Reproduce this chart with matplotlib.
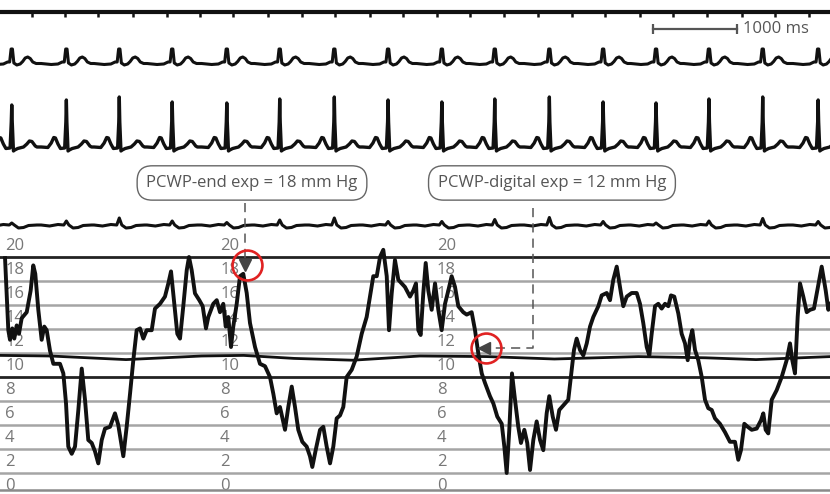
import numpy as np
import matplotlib.pyplot as plt

plt.rcParams['font.family'] = ['Open Sans', 'DejaVu Sans']

# --- timing (seconds) ---
marker_t = [0.38, 0.77, 1.17, 1.58, 1.99, 2.38, 2.77, 3.19, 3.60, 3.99, 4.40, 4.80,
            5.20, 5.60, 6.00, 6.40, 6.81, 7.20, 7.62, 8.01, 8.42, 8.83, 9.23, 9.63]
r_peaks = [0.14, 0.79, 1.42, 2.05, 2.70, 3.33, 3.98, 4.62, 5.26, 5.89, 6.54, 7.18,
           7.81, 8.44, 9.08, 9.74]

# R amplitude per beat (lead 3) and bump amplitude per beat (lead 4)
lead3_r = [4.2, 4.7, 5.0, 4.5, 4.4, 4.8, 5.0, 4.7, 4.5, 4.8, 5.0, 4.5, 4.4, 4.8, 5.0, 4.7]
lead4_r = [0.2, 0.4, 0.7, 0.4, 0.25, 0.5, 0.7, 0.35, 0.35, 0.55, 0.75, 0.35, 0.2, 0.4, 0.65, 0.35]

# beat shapes (offset from R in s, amplitude)
lead2_off = [-0.30, -0.18, -0.10, -0.05, -0.025, -0.008, 0.008, 0.025, 0.06, 0.10, 0.13, 0.16, 0.19, 0.22, 0.25, 0.29, 0.30]
lead2_val = [-0.05, -0.15, -0.1, 0.1, 0.1, 1.4, 1.4, 0.0, -0.2, -0.1, 0.15, 0.5, 0.6, 0.45, 0.1, -0.05, -0.05]
lead3_off = [-0.30, -0.22, -0.18, -0.15, -0.13, -0.10, -0.07, -0.02, -0.006, 0.0, 0.006, 0.02, 0.035,
             0.07, 0.14, 0.18, 0.21, 0.24, 0.28, 0.30]
lead3_val = [0.0, -0.05, 0.4, 0.95, 0.9, 0.3, -0.15, -0.1, 2.5, None, 2.5, -0.4, -0.3,
             -0.15, 0.0, 0.3, 0.6, 0.55, 0.1, 0.0]
lead4_off = [-0.30, -0.20, -0.10, -0.03, 0.0, 0.03, 0.08, 0.14, 0.20, 0.30]
lead4_val = [0.0, -0.1, 0.05, 0.0, None, 0.0, -0.3, -0.25, -0.05, 0.0]

# --- wedge pressure trace (s, mm Hg) ---
p_time = [0.060, 0.099, 0.119, 0.146, 0.170, 0.199, 0.226, 0.258, 0.318, 0.365, 0.396, 0.420,
          0.456, 0.496, 0.527, 0.556, 0.595, 0.635, 0.714, 0.754, 0.786, 0.813, 0.854, 0.893,
          0.932, 0.973, 1.012, 1.051, 1.092, 1.131, 1.170, 1.211, 1.250, 1.310, 1.369, 1.408,
          1.468, 1.508, 1.548, 1.587, 1.627, 1.667, 1.706, 1.746, 1.806, 1.845, 1.905, 1.964,
          2.004, 2.036, 2.071, 2.111, 2.143, 2.182, 2.223, 2.250, 2.282, 2.321, 2.373, 2.413,
          2.452, 2.480, 2.539, 2.580, 2.619, 2.658, 2.687, 2.718, 2.750, 2.777, 2.818, 2.857,
          2.896, 2.937, 2.976, 3.036, 3.095, 3.155, 3.214, 3.254, 3.294, 3.333, 3.393, 3.432,
          3.473, 3.512, 3.551, 3.599, 3.651, 3.690, 3.718, 3.758, 3.810, 3.849, 3.889, 3.929,
          3.968, 4.008, 4.048, 4.087, 4.127, 4.187, 4.246, 4.306, 4.365, 4.405, 4.444, 4.485,
          4.524, 4.563, 4.604, 4.631, 4.663, 4.702, 4.742, 4.782, 4.821, 4.881, 4.920, 4.952,
          4.980, 5.008, 5.039, 5.068, 5.099, 5.139, 5.179, 5.218, 5.258, 5.298, 5.337, 5.377,
          5.417, 5.456, 5.515, 5.556, 5.615, 5.655, 5.694, 5.735, 5.774, 5.833, 5.873, 5.920,
          5.973, 6.004, 6.032, 6.063, 6.095, 6.131, 6.170, 6.202, 6.242, 6.277, 6.310, 6.349,
          6.389, 6.429, 6.468, 6.508, 6.539, 6.580, 6.619, 6.658, 6.714, 6.765, 6.806, 6.833,
          6.865, 6.905, 6.944, 6.985, 7.024, 7.063, 7.123, 7.163, 7.223, 7.262, 7.301, 7.342,
          7.393, 7.420, 7.461, 7.520, 7.580, 7.619, 7.658, 7.699, 7.730, 7.758, 7.798, 7.837,
          7.877, 7.917, 7.956, 7.988, 8.027, 8.075, 8.115, 8.155, 8.187, 8.214, 8.242, 8.274,
          8.313, 8.354, 8.393, 8.432, 8.473, 8.512, 8.571, 8.631, 8.690, 8.750, 8.789, 8.821,
          8.861, 8.901, 8.949, 9.008, 9.060, 9.087, 9.115, 9.146, 9.187, 9.246, 9.306, 9.365,
          9.405, 9.432, 9.464, 9.496, 9.524, 9.563, 9.604, 9.643, 9.690, 9.730, 9.782, 9.830,
          9.861, 9.881]
p_mmhg = [19.9, 13.9, 13.1, 14.05, 13.2, 14.3, 13.6, 14.9, 15.4, 17.2, 19.3, 18.6,
          15.6, 13.1, 14.2, 13.9, 12.2, 11.1, 11.1, 10.3, 7.8, 4.2, 3.6, 4.2,
          7.2, 10.7, 8.1, 4.75, 4.5, 3.8, 2.8, 4.75, 5.7, 5.85, 6.97, 6.0,
          3.4, 5.85, 8.6, 11.4, 13.9, 14.05, 13.2, 13.9, 13.9, 15.7, 16.1, 16.7,
          17.8, 18.8, 16.4, 13.6, 13.2, 15.9, 18.9, 20.0, 18.9, 16.97, 16.4, 15.9,
          14.05, 15.0, 16.1, 16.4, 15.4, 16.1, 14.2, 15.0, 12.5, 14.2, 16.1, 18.4,
          18.6, 17.0, 14.5, 12.5, 11.1, 10.9, 10.0, 8.6, 6.97, 7.5, 5.6, 7.5,
          9.2, 7.5, 5.6, 4.6, 4.2, 3.4, 2.5, 3.9, 5.6, 5.85, 4.2, 2.8,
          4.2, 6.55, 6.8, 7.5, 10.0, 10.6, 11.7, 13.6, 15.0, 16.7, 18.4, 18.4,
          20.0, 20.6, 18.4, 13.9, 16.97, 19.75, 18.1, 17.8, 17.5, 16.7, 17.2, 17.8,
          13.9, 13.5, 16.97, 19.5, 17.2, 15.6, 17.8, 15.6, 13.9, 16.1, 17.2, 18.4,
          17.5, 15.9, 15.4, 15.2, 15.4, 13.9, 11.97, 10.3, 9.5, 8.4, 7.8, 6.7,
          6.1, 4.2, 2.0, 5.6, 10.3, 8.1, 5.85, 4.5, 5.6, 4.5, 2.25, 4.75,
          6.3, 4.75, 3.9, 6.97, 8.4, 6.7, 5.6, 7.25, 7.7, 8.1, 10.6, 12.25,
          13.2, 12.25, 11.8, 12.8, 14.2, 15.0, 15.9, 16.8, 17.0, 16.4, 18.1, 19.2,
          16.97, 15.9, 16.7, 17.0, 17.0, 16.1, 14.5, 12.5, 11.8, 13.6, 15.9, 16.1,
          15.7, 16.1, 15.9, 16.8, 16.7, 15.3, 13.6, 12.8, 11.4, 13.1, 13.9, 12.25,
          11.4, 10.0, 8.1, 7.4, 7.25, 6.55, 6.1, 5.4, 4.6, 4.6, 3.1, 3.9,
          6.1, 5.85, 5.6, 5.7, 6.4, 6.97, 5.6, 5.3, 8.1, 8.9, 10.0, 11.4,
          12.8, 11.4, 10.3, 15.0, 17.8, 16.7, 15.4, 15.6, 15.7, 17.2, 19.2, 17.2,
          15.6, 16.1]

# slowly varying reference trace near 11-12 mm Hg
ref_time = [0.0, 0.6, 1.5, 2.4, 2.9, 3.5, 4.2, 5.0, 5.8, 6.6, 7.6, 8.4, 9.0, 9.881]
ref_mmhg = [11.8, 11.75, 11.45, 11.75, 11.8, 11.55, 11.4, 11.75, 11.7, 11.5, 11.7, 11.6, 11.45, 11.7]

grid_levels = [2, 4, 6, 8, 10, 12, 14, 16, 18, 20]
label_levels = [0, 2, 4, 6, 8, 10, 12, 14, 16, 18, 20]
label_cols = [0.06, 2.62, 5.20]

end_exp_time, end_exp_value = 2.92, 19.1
digital_time, digital_value = 6.345, 12.4
t_end = 9.881


def build_lead(offsets, values, amps=None):
    ts, vs = [], []
    for i, r in enumerate(r_peaks):
        for o, v in zip(offsets, values):
            ts.append(r + o)
            vs.append(amps[i] if v is None else v)
    return np.array(ts), np.array(vs)


fig = plt.figure(figsize=(8.3, 4.94), dpi=100)
H = 494.0


def strip(top_px, bottom_px, ylim):
    ax = fig.add_axes([0, 1 - bottom_px / H, 1, (bottom_px - top_px) / H])
    ax.set_xlim(0, t_end)
    ax.set_ylim(*ylim)
    ax.set_facecolor('none')
    ax.axis('off')
    return ax


ink = '#111111'

# time marker line
ax0 = strip(0, 25, (-2.6, 2.4))
ax0.axhline(0, color=ink, lw=3.0)
ax0.vlines(marker_t, -1.0, 0, color=ink, lw=1.8)

# lead 2
ax1 = strip(35, 80, (-1.7, 2.8))
t2, v2 = build_lead(lead2_off, lead2_val)
ax1.plot(t2, v2, color=ink, lw=2.2, solid_joinstyle='round')
ax1.plot([7.77, 8.77], [3.4, 3.4], color='#555555', lw=1.6, marker='|', ms=7, mew=1.6, clip_on=False)
ax1.text(8.85, 3.4, '1000 ms', color='#555555', fontsize=12, va='center', ha='left')

# lead 3
ax2 = strip(85, 160, (-1.3, 6.2))
t3, v3 = build_lead(lead3_off, lead3_val, lead3_r)
ax2.plot(t3, v3, color=ink, lw=2.4, solid_joinstyle='round')

# lead 4
ax3 = strip(205, 240, (-1.5, 2.0))
t4, v4 = build_lead(lead4_off, lead4_val, lead4_r)
ax3.plot(t4, v4, color=ink, lw=2.2, solid_joinstyle='round')

# pressure strip
axp = fig.add_axes([0, 1 - 490 / H, 1, 250 / H])
axp.set_facecolor('none')
axp.set_xlim(0, t_end)
axp.set_ylim(0.583, 21.417)
axp.set_xticks([])
axp.set_yticks([])
for s in ['top', 'left', 'right']:
    axp.spines[s].set_visible(False)
axp.spines['bottom'].set_color('#8a8a8a')
axp.spines['bottom'].set_linewidth(1.8)

for lv in grid_levels:
    dark = lv in (10, 20)
    axp.axhline(lv, color='#222222' if dark else '#a5a5a5', lw=2.0 if dark else 1.8, zorder=1)
for x in label_cols:
    for lv in label_levels:
        axp.text(x, lv + 0.95, str(lv), color='#777777', fontsize=12, ha='left', va='center', zorder=2)

axp.plot(ref_time, ref_mmhg, color=ink, lw=2.0, zorder=3)
axp.plot(p_time, p_mmhg, color=ink, lw=2.8, solid_joinstyle='round', zorder=4)

# annotations
box = dict(boxstyle='round,pad=0.55,rounding_size=0.9', fc='white', ec='#666666', lw=1.0)
axp.text(3.0, 26.17, 'PCWP-end exp = 18 mm Hg', fontsize=12, color='#555555',
         ha='center', va='center', bbox=box, clip_on=False, zorder=6)
axp.text(6.571, 26.17, 'PCWP-digital exp = 12 mm Hg', fontsize=12, color='#555555',
         ha='center', va='center', bbox=box, clip_on=False, zorder=6)

dash = dict(color='#555555', lw=1.1, dashes=(6, 4), clip_on=False, zorder=5)
axp.plot([end_exp_time, end_exp_time], [24.5, end_exp_value + 0.5], **dash)
axp.plot([end_exp_time], [end_exp_value + 0.25], marker='v', ms=9, color='#444444', zorder=6)
axp.plot([digital_time, digital_time, 5.80], [24.1, digital_value, digital_value], **dash)
axp.plot([5.76], [digital_value], marker='<', ms=9, color='#444444', zorder=6)

axp.plot([2.94], [19.33], marker='o', ms=21.5, mfc='none', mec='#e02222', mew=1.9, zorder=7)
axp.plot([5.786], [12.42], marker='o', ms=21.5, mfc='none', mec='#e02222', mew=1.9, zorder=7)

fig.savefig('out.png', dpi=100)
